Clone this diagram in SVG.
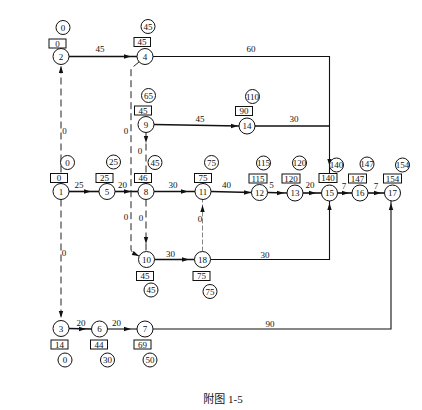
<svg xmlns="http://www.w3.org/2000/svg" width="422" height="410" viewBox="0 0 422 410">
<style>
text{font-family:"Liberation Serif","Noto Sans CJK SC",serif;font-size:9px;fill:#111;text-anchor:middle;dominant-baseline:central}
.n circle{fill:#fff;stroke:#111;stroke-width:1}
.b{fill:#fff;stroke:#111;stroke-width:1}
.a{fill:#fff;stroke:#111;stroke-width:0.9}
.s{fill:none;stroke:#111;stroke-width:1.6}
.t{fill:none;stroke:#111;stroke-width:1.1}
.d{fill:none;stroke:#222;stroke-width:1;stroke-dasharray:7,4}
.dl{fill:none;stroke:#777;stroke-width:0.9;stroke-dasharray:5,2}
.cap{font-size:11px}
</style>
<defs>
<path id="ah" d="M-7,-2.2 L0,0 L-7,2.2 Z" fill="#111"/>
</defs>
<rect width="422" height="410" fill="#fff"/>
<g id="connectors">
<!-- solid -->
<path class="s" d="M69,56.5 H137"/>
<use href="#ah" transform="translate(131,56.5)"/>
<text x="100" y="49">45</text>
<path class="t" d="M153,56.5 H329.5 V174"/>
<use href="#ah" transform="translate(329.5,166) rotate(90)"/>
<text x="251" y="49">60</text>
<path class="s" d="M154,124.5 L239,126"/>
<use href="#ah" transform="translate(238,126)"/>
<text x="200" y="119">45</text>
<path class="s" d="M255,126 H329.5"/>
<text x="294" y="119">30</text>
<path class="s" d="M69,191.5 H99"/>
<use href="#ah" transform="translate(91,191.5)"/>
<text x="79" y="185">25</text>
<path class="s" d="M115,191.5 H138"/>
<use href="#ah" transform="translate(131,191.5)"/>
<text x="122.5" y="184.5">20</text>
<path class="s" d="M154,191.5 H195"/>
<use href="#ah" transform="translate(188,191.5)"/>
<text x="173" y="185">30</text>
<path class="s" d="M211,191.5 L251.5,192.5"/>
<use href="#ah" transform="translate(251,192.5)"/>
<text x="226.5" y="184.5">40</text>
<path class="s" d="M267.5,192.5 L287,193"/>
<use href="#ah" transform="translate(284,193)"/>
<text x="271.5" y="185">5</text>
<path class="s" d="M303,193 H321.5"/>
<use href="#ah" transform="translate(316,193)"/>
<text x="310" y="185">20</text>
<path class="s" d="M337.5,193 H352"/>
<use href="#ah" transform="translate(349,193)"/>
<text x="344" y="186">7</text>
<path class="s" d="M368,193 H384.5"/>
<use href="#ah" transform="translate(381,193)"/>
<text x="376" y="186">7</text>
<path class="s" d="M154.5,259.5 H194.5"/>
<use href="#ah" transform="translate(189,259.5)"/>
<text x="170.5" y="254">30</text>
<path class="t" d="M210.5,259.5 H329.5 V201"/>
<use href="#ah" transform="translate(329.5,203) rotate(-90)"/>
<text x="265" y="255">30</text>
<path class="s" d="M69,328.5 L91.5,329"/>
<use href="#ah" transform="translate(86,329)"/>
<text x="81" y="323">20</text>
<path class="t" d="M107.5,329 H137"/>
<use href="#ah" transform="translate(131,329)"/>
<text x="116.5" y="323">20</text>
<path class="t" d="M153,329 H391 V201"/>
<use href="#ah" transform="translate(391,203) rotate(-90)"/>
<text x="270" y="324">90</text>
<!-- dashed -->
<path class="d" d="M61,183.5 V64.5"/>
<use href="#ah" transform="translate(61,66) rotate(-90)"/>
<text x="64.5" y="131">0</text>
<path class="d" d="M61,199.5 V320.5"/>
<use href="#ah" transform="translate(61,318) rotate(90)"/>
<text x="64" y="253">0</text>
<path class="d" d="M139,62 L131,68.5 V249 Q131,253 139,256"/>
<use href="#ah" transform="translate(139,256) rotate(25)"/>
<text x="126" y="131">0</text>
<text x="126" y="217">0</text>
<path class="d" d="M146,132.5 V183.5"/>
<use href="#ah" transform="translate(146,143) rotate(90)"/>
<text x="140" y="151">0</text>
<path class="d" d="M146,199.5 V251.5"/>
<use href="#ah" transform="translate(146,244) rotate(90)"/>
<text x="141" y="218">0</text>
<path class="dl" d="M202.5,251.5 V199.5"/>
<use href="#ah" transform="translate(202.5,205) rotate(-90)"/>
<text x="200" y="219">0</text>
</g>
<g id="node-1" class="n"><rect class="b" x="50.5" y="173.5" width="17" height="9"/><text x="59" y="178">0</text><circle class="a" cx="67.5" cy="162.5" r="7"/><text x="67.5" y="162.5">0</text><circle cx="61" cy="191.5" r="8"/><text x="61" y="191.5">1</text></g>
<g id="node-2" class="n"><rect class="b" x="49" y="39" width="17" height="9"/><text x="57.5" y="43.5">0</text><circle class="a" cx="63" cy="27.5" r="7"/><text x="63" y="27.5">0</text><circle cx="61" cy="56.5" r="8"/><text x="61" y="56.5">2</text></g>
<g id="node-3" class="n"><rect class="b" x="51" y="340" width="17" height="9"/><text x="59.5" y="344.5">14</text><circle class="a" cx="65" cy="360" r="7"/><text x="65" y="360">0</text><circle cx="61" cy="328.5" r="8"/><text x="61" y="328.5">3</text></g>
<g id="node-4" class="n"><rect class="b" x="134" y="37.5" width="16.5" height="9"/><text x="142" y="42">45</text><circle class="a" cx="148" cy="26.5" r="7"/><text x="148" y="26.5">45</text><circle cx="145" cy="56.5" r="8"/><text x="145" y="56.5">4</text></g>
<g id="node-5" class="n"><rect class="b" x="96" y="173.5" width="17" height="9"/><text x="104.5" y="178">25</text><circle class="a" cx="113.5" cy="162" r="7"/><text x="113.5" y="162">25</text><circle cx="107" cy="191.5" r="8"/><text x="107" y="191.5">5</text></g>
<g id="node-6" class="n"><rect class="b" x="90.5" y="340" width="17" height="9"/><text x="99" y="344.5">44</text><circle class="a" cx="107.5" cy="360" r="7"/><text x="107.5" y="360">30</text><circle cx="99.5" cy="329" r="8"/><text x="99.5" y="329">6</text></g>
<g id="node-7" class="n"><rect class="b" x="134" y="340" width="17" height="9"/><text x="142.5" y="344.5">69</text><circle class="a" cx="150" cy="360" r="7"/><text x="150" y="360">50</text><circle cx="145" cy="329" r="8"/><text x="145" y="329">7</text></g>
<g id="node-8" class="n"><rect class="b" x="134.5" y="173.5" width="17" height="9"/><text x="143" y="178">46</text><circle class="a" cx="155" cy="162.5" r="7"/><text x="155" y="162.5">45</text><circle cx="146" cy="191.5" r="8"/><text x="146" y="191.5">8</text></g>
<g id="node-9" class="n"><rect class="b" x="134.5" y="106" width="17" height="9"/><text x="143" y="110.5">45</text><circle class="a" cx="148.5" cy="95.5" r="7"/><text x="148.5" y="95.5">65</text><circle cx="146" cy="124.5" r="8"/><text x="146" y="124.5">9</text></g>
<g id="node-10" class="n"><rect class="b" x="136.5" y="271.5" width="17" height="9"/><text x="145" y="276">45</text><circle class="a" cx="151" cy="290" r="7"/><text x="151" y="290">45</text><circle cx="146.5" cy="259.5" r="8"/><text x="146.5" y="259.5">10</text></g>
<g id="node-11" class="n"><rect class="b" x="194.5" y="173.5" width="17" height="9"/><text x="203" y="178">75</text><circle class="a" cx="211.5" cy="162.5" r="7"/><text x="211.5" y="162.5">75</text><circle cx="203" cy="191.5" r="8"/><text x="203" y="191.5">11</text></g>
<g id="node-12" class="n"><rect class="b" x="249" y="174" width="18" height="9"/><text x="258" y="178.5">115</text><circle class="a" cx="263.5" cy="163" r="7"/><text x="263.5" y="163">115</text><circle cx="259.5" cy="192.5" r="8"/><text x="259.5" y="192.5">12</text></g>
<g id="node-13" class="n"><rect class="b" x="282" y="174" width="18" height="9"/><text x="291" y="178.5">120</text><circle class="a" cx="299.5" cy="163" r="7"/><text x="299.5" y="163">120</text><circle cx="295" cy="193" r="8"/><text x="295" y="193">13</text></g>
<g id="node-14" class="n"><rect class="b" x="235.5" y="106.5" width="17" height="9"/><text x="244" y="111">90</text><circle class="a" cx="252.5" cy="96.5" r="7"/><text x="252.5" y="96.5">110</text><circle cx="247" cy="126" r="8"/><text x="247" y="126">14</text></g>
<g id="node-15" class="n"><rect class="b" x="319" y="173.5" width="18" height="9"/><text x="328" y="178">140</text><circle class="a" cx="336.5" cy="165" r="7"/><text x="336.5" y="165">140</text><circle cx="329.5" cy="193" r="8"/><text x="329.5" y="193">15</text></g>
<g id="node-16" class="n"><rect class="b" x="348.5" y="174" width="18" height="9"/><text x="357.5" y="178.5">147</text><circle class="a" cx="367" cy="164" r="7"/><text x="367" y="164">147</text><circle cx="360" cy="193" r="8"/><text x="360" y="193">16</text></g>
<g id="node-17" class="n"><rect class="b" x="383.5" y="174" width="18" height="9"/><text x="392.5" y="178.5">154</text><circle class="a" cx="402.5" cy="165" r="7"/><text x="402.5" y="165">154</text><circle cx="392.5" cy="193" r="8"/><text x="392.5" y="193">17</text></g>
<g id="node-18" class="n"><rect class="b" x="193" y="271.5" width="17" height="9"/><text x="201.5" y="276">75</text><circle class="a" cx="210" cy="291.5" r="7"/><text x="210" y="291.5">75</text><circle cx="202.5" cy="259.5" r="8"/><text x="202.5" y="259.5">18</text></g>
<text class="cap" x="223" y="399">附图 1-5</text>
</svg>
